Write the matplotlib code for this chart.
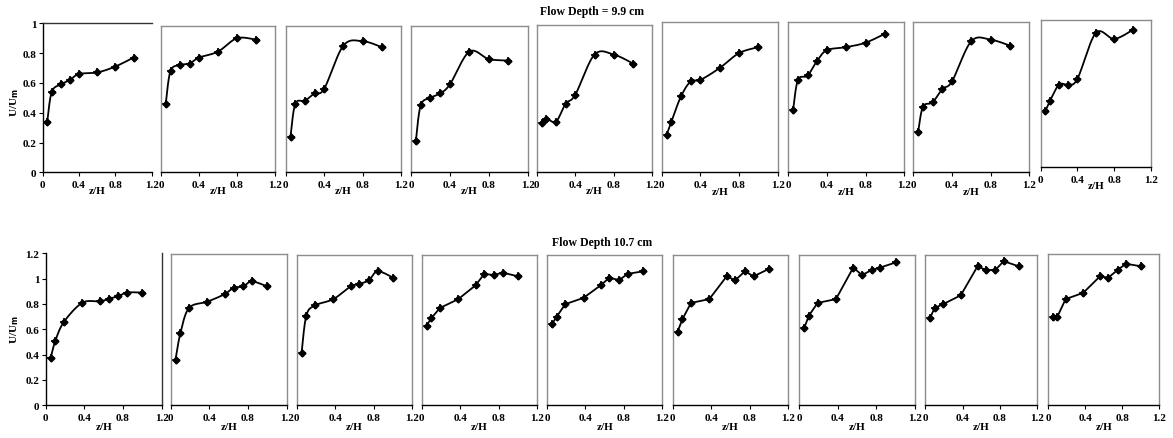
import numpy as np
import matplotlib
matplotlib.use("Agg")
import matplotlib.pyplot as plt

plt.rcParams['font.family'] = ['Liberation Serif', 'DejaVu Serif']
plt.rcParams['font.weight'] = 'bold'

# Flow depth 9.9 cm - relative depth and velocity ratio for the 9 verticals
z_top = [0.05, 0.1, 0.2, 0.3, 0.4, 0.6, 0.8, 1.0]
u_top = [
    [0.34, 0.54, 0.59, 0.62, 0.66, 0.67, 0.71, 0.77],
    [0.46, 0.68, 0.72, 0.73, 0.77, 0.81, 0.90, 0.89],
    [0.24, 0.46, 0.48, 0.53, 0.56, 0.85, 0.88, 0.84],
    [0.21, 0.45, 0.50, 0.53, 0.59, 0.81, 0.76, 0.75],
    [0.33, 0.36, 0.34, 0.46, 0.52, 0.79, 0.79, 0.73],
    [0.25, 0.34, 0.51, 0.61, 0.62, 0.70, 0.80, 0.84],
    [0.42, 0.62, 0.65, 0.75, 0.82, 0.84, 0.87, 0.93],
    [0.27, 0.44, 0.47, 0.56, 0.61, 0.88, 0.89, 0.85],
    [0.38, 0.45, 0.56, 0.56, 0.60, 0.91, 0.87, 0.93],
]

# Flow depth 10.7 cm
z_bot = [0.05, 0.1, 0.19, 0.38, 0.56, 0.65, 0.75, 0.84, 1.0]
u_bot = [
    [0.37, 0.51, 0.66, 0.81, 0.82, 0.84, 0.86, 0.89, 0.89],
    [0.36, 0.57, 0.77, 0.82, 0.88, 0.93, 0.94, 0.98, 0.94],
    [0.41, 0.71, 0.79, 0.84, 0.94, 0.96, 0.99, 1.06, 1.01],
    [0.63, 0.69, 0.77, 0.84, 0.95, 1.04, 1.03, 1.05, 1.02],
    [0.64, 0.70, 0.80, 0.85, 0.95, 1.01, 0.99, 1.04, 1.06],
    [0.58, 0.68, 0.81, 0.84, 1.02, 0.99, 1.06, 1.02, 1.08],
    [0.61, 0.71, 0.81, 0.84, 1.09, 1.03, 1.07, 1.09, 1.13],
    [0.69, 0.77, 0.80, 0.87, 1.10, 1.07, 1.07, 1.14, 1.10],
    [0.70, 0.70, 0.84, 0.89, 1.02, 1.01, 1.07, 1.12, 1.10],
]

xticks = [0, 0.4, 0.8, 1.2]
xtick_labels = ['0', '0.4', '0.8', '1.2']

# panel boxes in pixels (left, right, top, bottom)
W, H = 1173, 439
lefts_top = [42.7, 161, 285.7, 411, 536.7, 661.7, 788.3, 913.3, 1040.7]
rights_top = [151.7, 275, 401, 527.7, 652.3, 777.7, 904.3, 1029.3, 1151]
tops_top = [24.3, 27.3, 26.7, 27, 26, 23.3, 23.3, 23.3, 20.7]
bottoms_top = [173.3] * 8 + [168.3]
lefts_bot = [45.7, 170.7, 296.7, 421.7, 547, 672.7, 799.3, 925.3, 1048]
rights_bot = [161.7, 286.7, 412.3, 537.3, 662.3, 788.3, 915, 1037.3, 1159.3]
tops_bot = [254.3, 255, 256, 256, 256, 256, 255.7, 255.7, 255]
bottoms_bot = [406.3] * 9


def smooth(x, y, n=25):
    # excel style smoothed line (bezier through the points)
    p = np.column_stack([x, y]).astype(float)
    out = []
    for i in range(len(p) - 1):
        p0 = p[i - 1] if i > 0 else p[i]
        p1, p2 = p[i], p[i + 1]
        p3 = p[i + 2] if i + 2 < len(p) else p[i + 1]
        c1 = p1 + (p2 - p0) / 6
        c2 = p2 - (p3 - p1) / 6
        t = np.linspace(0, 1, n)[:, None]
        seg = (1 - t)**3 * p1 + 3 * (1 - t)**2 * t * c1 + 3 * (1 - t) * t**2 * c2 + t**3 * p2
        out.append(seg)
    out = np.vstack(out)
    return out[:, 0], out[:, 1]


fig = plt.figure(figsize=(W / 100, H / 100), dpi=100)


def make_panel(l, r, t, b, scale, first, yticks, ytop):
    ax = fig.add_axes([l / W, (H - b) / H, (r - l) / W, (b - t) / H])
    ax.set_xlim(0, 1.2)
    ax.set_ylim(0, (b - t) / scale if not first else ytop)
    ax.set_xticks(xticks)
    ax.set_xticklabels(xtick_labels)
    for s in ['top', 'right', 'left']:
        ax.spines[s].set_color('#8c8c8c')
        ax.spines[s].set_linewidth(1.0)
    ax.spines['bottom'].set_color('black')
    ax.spines['bottom'].set_linewidth(1.0)
    ax.tick_params(axis='x', direction='out', length=3, width=0.8, pad=2.5,
                   labelsize=8)
    if first:
        ax.spines['left'].set_color('black')
        ax.set_yticks(yticks)
        ax.set_yticklabels(['0' if v == 0 else ('1' if v == 1 else f'{v:g}') for v in yticks])
        ax.tick_params(axis='y', direction='out', length=3, width=0.8, pad=1.5,
                       labelsize=8)
    else:
        ax.set_yticks([])
    ax.text(0.6, -0.125 if b < 200 else -0.14, 'z/H', transform=ax.get_xaxis_transform(),
            ha='center', va='center', fontsize=8, fontweight='bold')
    return ax


# top row
for i in range(9):
    sc = 149.0 if i < 8 else (bottoms_top[i] - tops_top[i])
    ax = make_panel(lefts_top[i], rights_top[i], tops_top[i], bottoms_top[i], sc,
                    i == 0, [0, 0.2, 0.4, 0.6, 0.8, 1.0], 1.0)
    if i == 0:
        ax.spines['right'].set_visible(False)
        ax.spines['top'].set_color('#333333')
    xs, ys = smooth(z_top, u_top[i])
    ax.plot(xs, ys, color='black', lw=1.3)
    ax.plot(z_top, u_top[i], 'D', color='black', ms=3.5)
    ax.plot(z_top, u_top[i], '+', color='black', ms=6, mew=1.2)

# bottom row
for i in range(9):
    ax = make_panel(lefts_bot[i], rights_bot[i], tops_bot[i], bottoms_bot[i], 126.4,
                    i == 0, [0, 0.2, 0.4, 0.6, 0.8, 1.0, 1.2], 1.2)
    if i == 0:
        ax.spines['top'].set_visible(False)
        ax.spines['right'].set_color('#333333')
    if i < 3:
        xs, ys = smooth(z_bot, u_bot[i])
    else:
        xs, ys = z_bot, u_bot[i]
    ax.plot(xs, ys, color='black', lw=1.3)
    ax.plot(z_bot, u_bot[i], 'D', color='black', ms=3.5)
    ax.plot(z_bot, u_bot[i], '+', color='black', ms=6, mew=1.2)

fig.text(592 / W, 1 - 12 / H, 'Flow Depth = 9.9 cm', ha='center', va='center',
         fontsize=8.5, fontweight='bold')
fig.text(602 / W, 1 - 243 / H, 'Flow Depth 10.7 cm', ha='center', va='center',
         fontsize=8.5, fontweight='bold')
fig.text(15 / W, 1 - 103 / H, r'U/U$_\mathbf{m}$', rotation=90, ha='center', va='center',
         fontsize=8, fontweight='bold')
fig.text(15 / W, 1 - 330 / H, r'U/U$_\mathbf{m}$', rotation=90, ha='center', va='center',
         fontsize=8, fontweight='bold')

fig.savefig('out.png', dpi=100)
